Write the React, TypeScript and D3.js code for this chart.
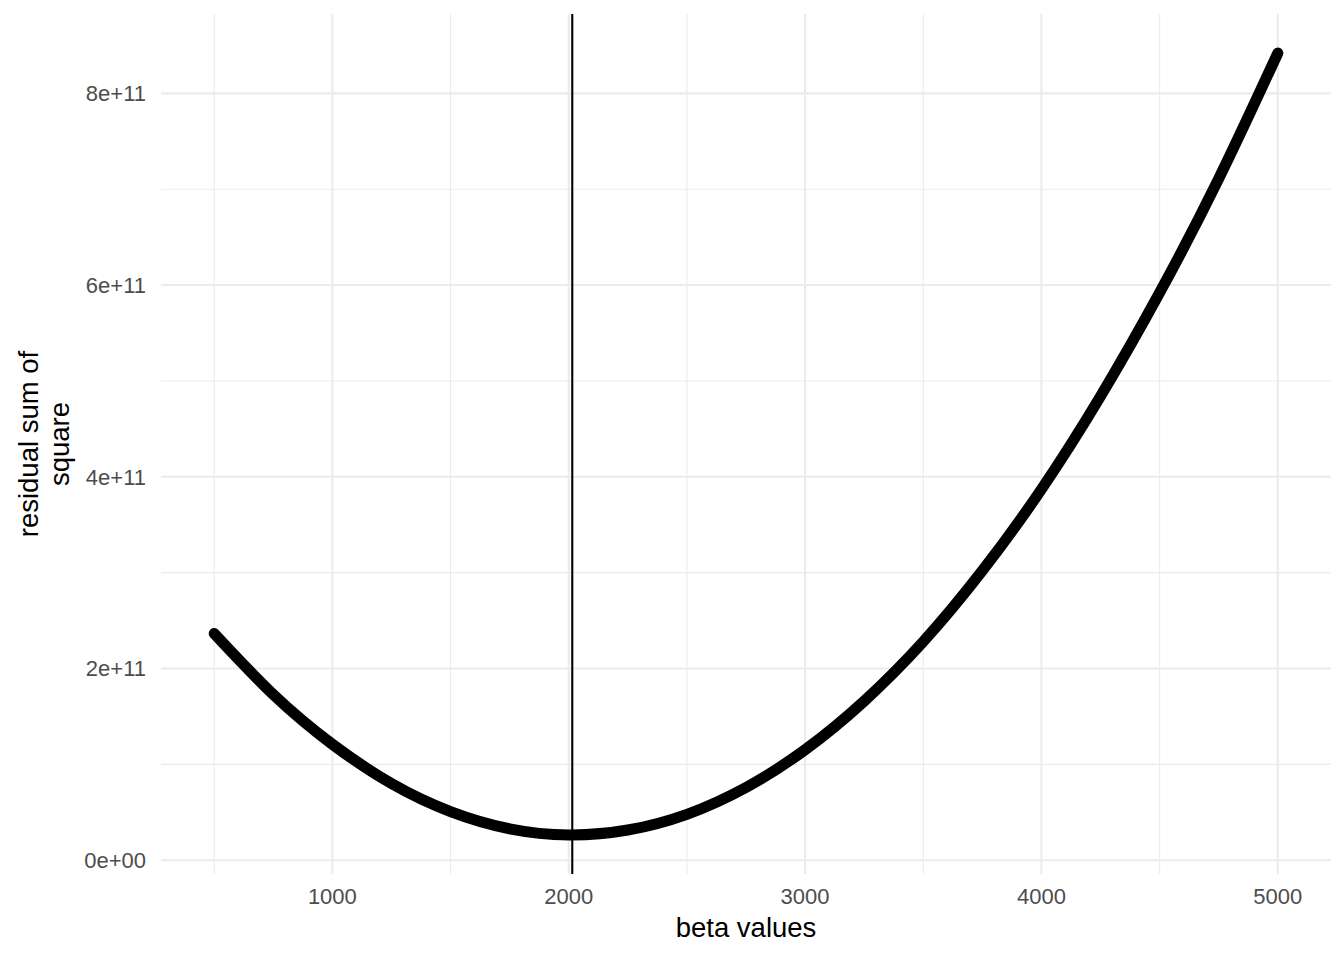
import { useMemo } from "react";
import * as d3 from "d3";

const betaValues = [500, 750, 1000, 1250, 1500, 1750, 2000, 2250, 2500, 2750, 3000, 3250, 3500, 3750, 4000, 4250, 4500, 4750, 5000];
const rssValues = [
  2.365e11, 1.729e11, 1.21e11, 8.0e10, 5.07e10, 3.28e10, 2.64e10, 3.15e10, 4.79e10, 7.59e10,
  1.152e11, 1.66e11, 2.28e11, 3.02e11, 3.87e11, 4.84e11, 5.92e11, 7.11e11, 8.42e11,
];
const bestBeta = 2015;

const xMajor = [1000, 2000, 3000, 4000, 5000];
const xMinor = [500, 1500, 2500, 3500, 4500];
const yMajor = [0, 2e11, 4e11, 6e11, 8e11];
const yMinor = [1e11, 3e11, 5e11, 7e11];
const yTickLabels = ["0e+00", "2e+11", "4e+11", "6e+11", "8e+11"];

const W = 1344;
const H = 960;
const FONT = "'Liberation Sans', Arial, Helvetica, sans-serif";

export default function App() {
  const margin = { left: 161, right: 13, top: 14, bottom: 86 };

  const { x, y, path } = useMemo(() => {
    // ggplot style 5% expansion on both axes
    const xLo = d3.min(betaValues)!;
    const xHi = d3.max(betaValues)!;
    const xPad = (xHi - xLo) * 0.05;
    const yLo = d3.min(rssValues)!;
    const yHi = d3.max(rssValues)!;
    const yPad = (yHi - yLo) * 0.05;

    const x = d3
      .scaleLinear()
      .domain([xLo - xPad, xHi + xPad])
      .range([margin.left, W - margin.right]);
    const y = d3
      .scaleLinear()
      .domain([yLo - yPad, yHi + yPad])
      .range([H - margin.bottom, margin.top]);

    const pts = betaValues.map((b, i) => [b, rssValues[i]] as [number, number]);
    const line = d3
      .line<[number, number]>()
      .x((d) => x(d[0]))
      .y((d) => y(d[1]))
      .curve(d3.curveNatural);
    return { x, y, path: line(pts) || "" };
  }, []);

  const [x0, x1] = x.range();
  const [y0, y1] = y.range();

  return (
    <svg
      width={W}
      height={H}
      style={{ position: "absolute", left: 0, top: 0, background: "#fff" }}
      fontFamily={FONT}
    >
      <rect width={W} height={H} fill="#fff" />
      {/* minor grid */}
      {xMinor.map((v) => (
        <line key={"xm" + v} x1={x(v)} x2={x(v)} y1={y1} y2={y0} stroke="#EBEBEB" strokeWidth={1.1} />
      ))}
      {yMinor.map((v) => (
        <line key={"ym" + v} x1={x0} x2={x1} y1={y(v)} y2={y(v)} stroke="#EBEBEB" strokeWidth={1.1} />
      ))}
      {/* major grid */}
      {xMajor.map((v) => (
        <line key={"xM" + v} x1={x(v)} x2={x(v)} y1={y1} y2={y0} stroke="#EBEBEB" strokeWidth={2.1} />
      ))}
      {yMajor.map((v) => (
        <line key={"yM" + v} x1={x0} x2={x1} y1={y(v)} y2={y(v)} stroke="#EBEBEB" strokeWidth={2.1} />
      ))}

      {/* the curve */}
      <path d={path} fill="none" stroke="#000" strokeWidth={11} strokeLinecap="round" strokeLinejoin="round" />

      {/* vertical line at the minimum */}
      <line x1={x(bestBeta)} x2={x(bestBeta)} y1={y1} y2={y0} stroke="#000" strokeWidth={2.1} />

      {/* x tick labels */}
      {xMajor.map((v) => (
        <text key={"xl" + v} x={x(v)} y={y0 + 30} textAnchor="middle" fontSize={22} fill="#4D4D4D">
          {v}
        </text>
      ))}
      {/* y tick labels */}
      {yMajor.map((v, i) => (
        <text
          key={"yl" + v}
          x={x0 - 15}
          y={y(v)}
          dy="0.36em"
          textAnchor="end"
          fontSize={22}
          fill="#4D4D4D"
        >
          {yTickLabels[i]}
        </text>
      ))}

      {/* axis titles */}
      <text x={(x0 + x1) / 2} y={y0 + 63} textAnchor="middle" fontSize={27.5} fill="#000">
        beta values
      </text>
      <text
        transform={`translate(38, ${(y0 + y1) / 2}) rotate(-90)`}
        textAnchor="middle"
        fontSize={27.5}
        fill="#000"
      >
        <tspan x={0} dy={0}>residual sum of</tspan>
        <tspan x={0} dy={31}>square</tspan>
      </text>
    </svg>
  );
}
